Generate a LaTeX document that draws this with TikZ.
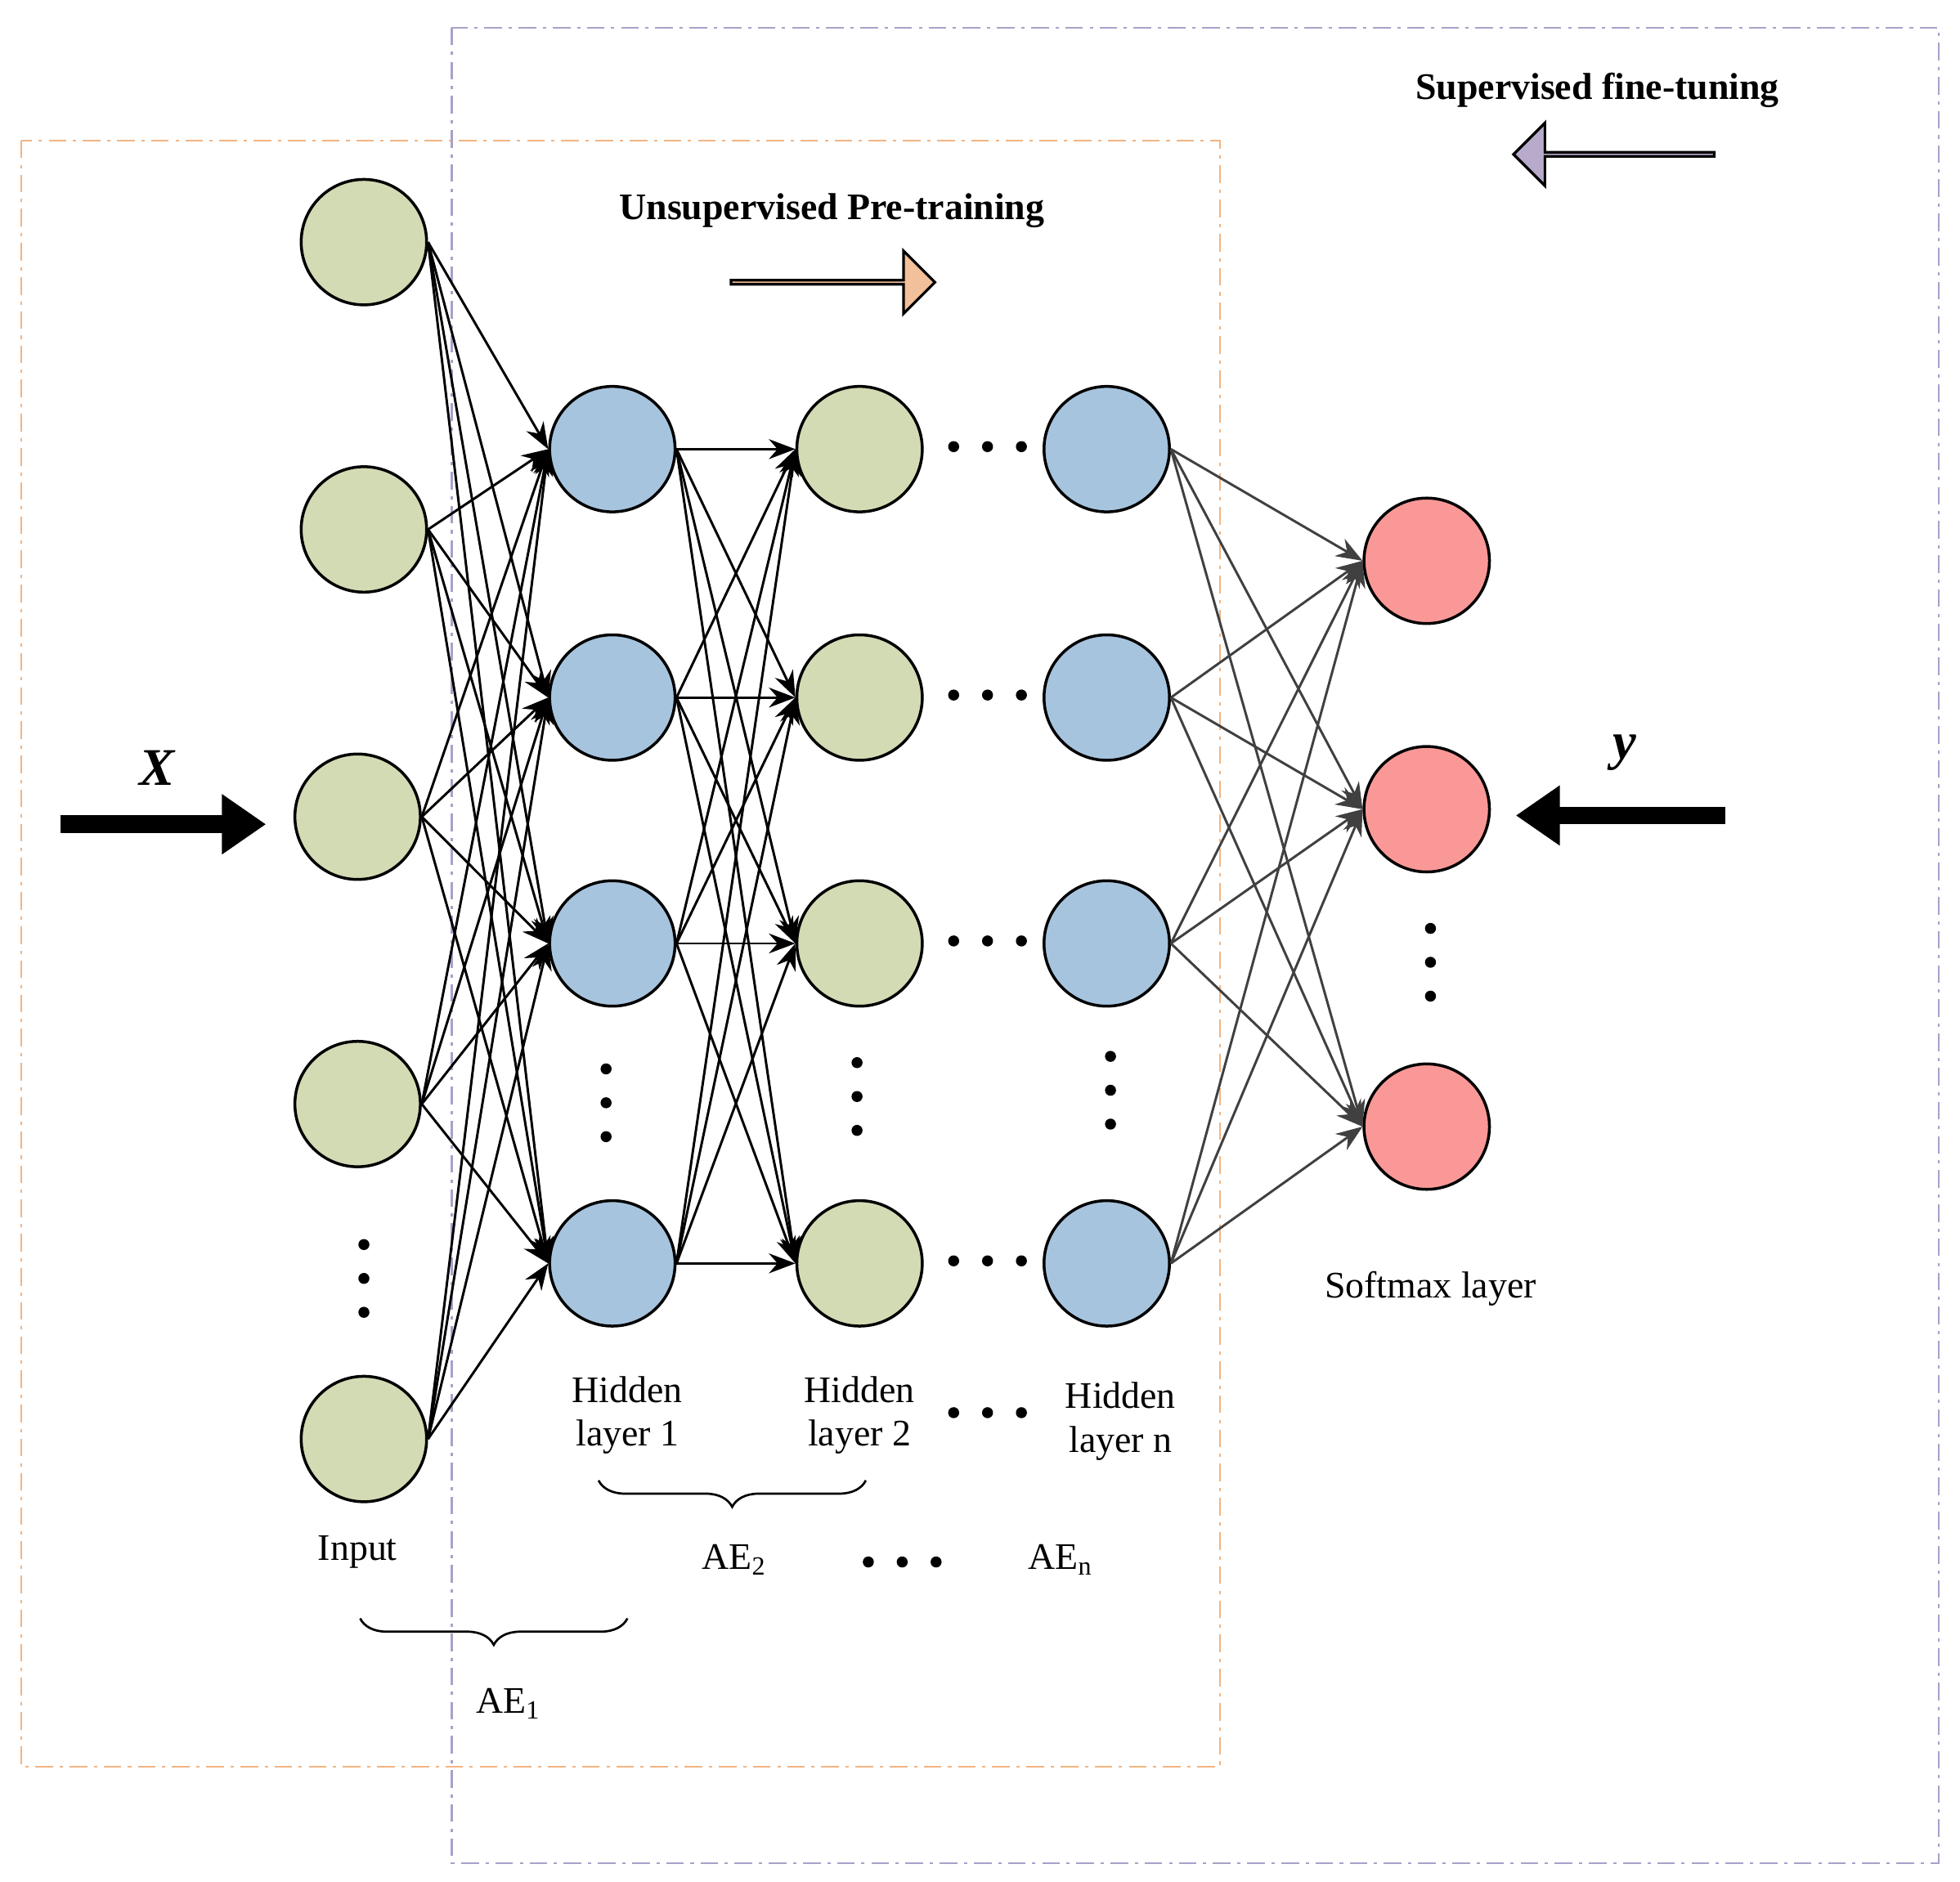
\documentclass[tikz,border=0pt]{standalone}
\usepackage{fontspec}
\setmainfont{Liberation Serif}
\usetikzlibrary{shapes.arrows,arrows.meta,decorations.pathreplacing}
\definecolor{cg}{RGB}{211,219,180}
\definecolor{cb}{RGB}{167,196,222}
\definecolor{cr}{RGB}{250,152,152}
\definecolor{co}{RGB}{242,192,154}
\definecolor{cp}{RGB}{184,170,203}
\definecolor{bo}{RGB}{242,180,130}
\definecolor{bp}{RGB}{170,160,200}
\begin{document}
\begin{tikzpicture}[x=0.02cm,y=-0.02cm,
 neu/.style={circle,draw,line width=1.3pt,minimum size=2cm,inner sep=0pt},
 ed/.style={-{Stealth[length=12pt,width=9pt]},line width=1.1pt},
 edg/.style={ed,draw=black!75},
 lab/.style={font=\fontsize{17}{20}\selectfont,align=center},
 dot/.style={circle,fill=black,inner sep=0pt,minimum size=5pt}]
\useasboundingbox (0,0) rectangle (1562,1500);
\draw[bo,line width=0.8pt,dash pattern=on 8pt off 3pt on 1.5pt off 3pt] (17,112) rectangle (972,1408);
\draw[bp,line width=0.8pt,dash pattern=on 8pt off 3pt on 1.5pt off 3pt] (360,22) rectangle (1545,1485);
% nodes
\foreach \n/\x/\y in {1/290/193,2/290/422,3/285/651,4/285/880,5/290/1147}
  \node[neu,fill=cg] (i\n) at (\x,\y) {};
\foreach \n/\y in {1/358,2/556,3/752,4/1007}{
  \node[neu,fill=cb] (a\n) at (488,\y) {};
  \node[neu,fill=cg] (b\n) at (685,\y) {};
  \node[neu,fill=cb] (c\n) at (882,\y) {};
  \foreach \k in {0,1,2} \node[dot] (hd\n\k) at (760+\k*27,\y-2) {};
}
\foreach \n/\y in {1/447,2/645,3/898}
  \node[neu,fill=cr] (s\n) at (1137,\y) {};
% edges
\foreach \i in {1,...,5} \foreach \j in {1,...,4}
  \draw[ed] (i\i.east) -- (a\j.west);
\foreach \i in {1,...,4} \foreach \j in {1,...,4}
  \draw[ed] (a\i.east) -- (b\j.west);
\foreach \i in {1,...,4} \foreach \j in {1,...,3}
  \draw[edg] (c\i.east) -- (s\j.west);
% vertical dots
\foreach \x/\y in {290/992,483/852,683/847,885/842,1140/740}
  \foreach \k in {0,1,2} \node[dot] (vd\x\k) at (\x,\y+\k*27) {};
% labels
\node[lab] (l1) at (500,1128) {Hidden\\layer 1};
\node[lab] (l2) at (685,1128) {Hidden\\layer 2};
\node[lab] (ln) at (893,1133) {Hidden\\layer n};
\foreach \k in {0,1,2} \node[dot] (ld\k) at (760+\k*27,1126) {};
\node[lab] (inp) at (285,1237) {Input};
\node[lab] (sm) at (1140,1027) {Softmax layer};
\draw[decorate,decoration={brace,mirror,amplitude=12pt},line width=1pt] (477,1180) -- (690,1180);
\draw[decorate,decoration={brace,mirror,amplitude=12pt},line width=1pt] (287,1290) -- (500,1290);
\node[lab] (ae2) at (585,1243) {AE\textsubscript{2}};
\foreach \k in {0,1,2} \node[dot] (ad\k) at (692+\k*27,1245) {};
\node[lab] (aen) at (845,1243) {AE\textsubscript{n}};
\node[lab] (ae1) at (405,1358) {AE\textsubscript{1}};
\node[lab,font=\fontsize{17}{20}\selectfont\bfseries] (ut) at (663,168) {Unsupervised Pre-training};
\node[lab,font=\fontsize{17}{20}\selectfont\bfseries] (st) at (1273,72) {Supervised fine-tuning};
\node[single arrow,draw,fill=co,line width=1.2pt,minimum width=1cm,single arrow head extend=0.3cm,minimum height=3.25cm,inner sep=0pt] (ua) at (663,225) {};
\node[single arrow,draw,fill=cp,line width=1.2pt,minimum width=1cm,single arrow head extend=0.3cm,minimum height=3.2cm,inner sep=0pt,shape border rotate=180] (sa) at (1287,123) {};
% X and y
\coordinate (xs) at (48,657);
\coordinate (xe) at (212,657);
\draw[-{Triangle[length=20pt,width=26pt]},line width=8pt] (xs) -- (xe);
\node[font=\fontsize{24}{26}\selectfont\bfseries\itshape] (X) at (125,612) {X};
\coordinate (ys) at (1375,650);
\coordinate (ye) at (1208,650);
\draw[-{Triangle[length=20pt,width=26pt]},line width=8pt] (ys) -- (ye);
\node[font=\fontsize{24}{26}\selectfont\bfseries\itshape] (Y) at (1295,600) {y};
\end{tikzpicture}
\end{document}
